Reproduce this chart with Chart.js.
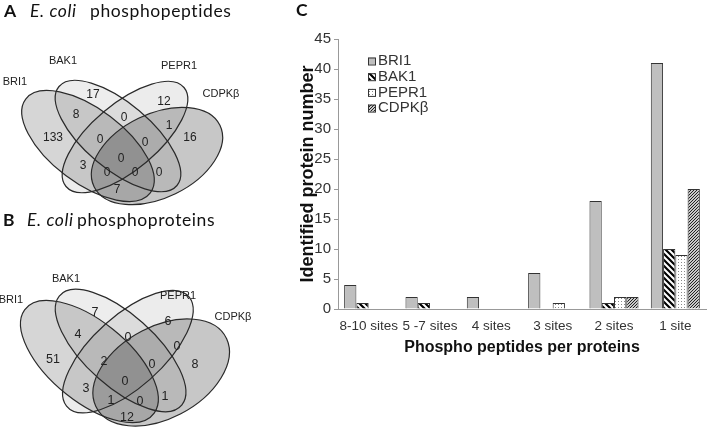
<!DOCTYPE html>
<html>
<head>
<meta charset="utf-8">
<script src="https://cdn.jsdelivr.net/npm/chart.js@4.4.0/dist/chart.umd.min.js"></script>
<style>
  body { margin: 0; background: #fff; }
  #page { position: relative; width: 708px; height: 429px; overflow: hidden; }
  .box { position: absolute; }
  .t { position: absolute; font-family: Lato, sans-serif; font-size: 17.5px; line-height: 17px; letter-spacing: .6px; color: #111; white-space: nowrap; }
</style>
</head>
<body>
<div id="page">
  <div class="box" style="left:0;top:0;width:300px;height:210px"><canvas id="vennA"></canvas></div>
  <div class="box" style="left:0;top:210px;width:300px;height:219px"><canvas id="vennB"></canvas></div>
  <div class="box" style="left:296px;top:0;width:412px;height:429px"><canvas id="sites"></canvas></div>

  <span class="t" style="left:4px;top:2px"><b>A</b></span>
  <span class="t" style="left:30px;top:2px"><i>E. coli</i></span>
  <span class="t" style="left:90px;top:2px">phosphopeptides</span>
  <span class="t" style="left:3px;top:211px"><b>B</b></span>
  <span class="t" style="left:27px;top:211px"><i>E. coli</i></span>
  <span class="t" style="left:77px;top:211px">phosphoproteins</span>
  <span class="t" style="left:296px;top:1px"><b>C</b></span>
</div>
<script>
// ---- data ----
const vennSets = ['BRI1', 'BAK1', 'PEPR1', 'CDPKβ'];
// regions: A, B, C, D, AB, BC, CD, AD, AC, BD, ABC, BCD, ABD, ACD, ABCD
const peptideCounts = [133, 17, 12, 16, 8, 0, 1, 7, 3, 0, 0, 0, 0, 0, 0];
const proteinCounts = [51, 7, 6, 8, 4, 0, 0, 12, 3, 1, 2, 0, 0, 1, 0];

const siteLabels = ['8-10 sites', '5 -7 sites', '4 sites', '3 sites', '2 sites', '1 site'];
const bri1 = [4, 2, 2, 6, 18, 41];
const bak1 = [1, 1, 0, 0, 1, 10];
const pepr1 = [0, 0, 0, 1, 2, 9];
const cdpk = [0, 0, 0, 0, 2, 20];
const yMax = 45, yStep = 5;

// ---- venn layout (page pixels) ----
const vennFill = ['rgba(0,0,0,0.16)', 'rgba(0,0,0,0.07)', 'rgba(0,0,0,0.075)', 'rgba(0,0,0,0.22)'];

const layoutA = {
  box: [0, 300, 0, 210],
  stretch: [1, 1],
  // cx, cy, a, b, rotation
  ellipses: [[88, 146, 78, 37, 37], [118, 136, 77, 33, 40], [125, 137, 77, 33, -40], [157, 156, 70, 42, -26]],
  names: [[15, 82], [63, 61], [179, 66], [221, 94]],
  spots: [[53, 138], [93, 95], [164, 102], [190, 138], [76, 115], [124, 118], [169, 126], [117, 190],
          [83, 166], [159, 173], [100, 140], [145, 143], [135, 173], [107, 173], [121, 159]],
  countFont: '12px "Liberation Sans"',
  nameFont: '11px "Liberation Sans"'
};

const layoutB = {
  box: [0, 300, 210, 429],
  stretch: [1.04, 1.1],
  ellipses: [[89.4, 361.5, 78, 37, 37], [120.6, 350.5, 77, 33, 40], [127.9, 351.6, 77, 33, -40], [161.2, 372.5, 70, 42, -26]],
  names: [[11, 300], [66, 279], [178, 296], [233, 317]],
  spots: [[53, 360], [95, 313], [168, 322], [195, 365], [78, 335], [128, 338], [177, 347], [127, 418],
          [86, 389], [165, 397], [104, 362], [152, 365], [140, 402], [111, 401], [125, 382]],
  countFont: '12.5px "Liberation Sans"',
  nameFont: '11px "Liberation Sans"'
};

function vennPlugin(layout, counts) {
  return {
    id: 'venn',
    beforeDatasetsDraw(chart) {
      const { ctx, scales: { x, y } } = chart;
      const kx = Math.abs(x.getPixelForValue(1) - x.getPixelForValue(0)) * layout.stretch[0];
      const ky = Math.abs(y.getPixelForValue(1) - y.getPixelForValue(0)) * layout.stretch[1];
      const trace = e => {
        ctx.save();
        ctx.translate(x.getPixelForValue(e[0]), y.getPixelForValue(e[1]));
        ctx.scale(kx, ky);
        ctx.rotate(e[4] * Math.PI / 180);
        ctx.beginPath();
        ctx.ellipse(0, 0, e[2], e[3], 0, 0, Math.PI * 2);
        ctx.restore();
      };
      layout.ellipses.forEach((e, i) => { trace(e); ctx.fillStyle = vennFill[i]; ctx.fill(); });
      ctx.strokeStyle = '#2a2a2a';
      ctx.lineWidth = 1.2;
      layout.ellipses.forEach(e => { trace(e); ctx.stroke(); });
    },
    afterDatasetsDraw(chart) {
      const { ctx, scales: { x, y } } = chart;
      const meta = chart.getDatasetMeta(0);
      ctx.save();
      ctx.fillStyle = '#222';
      ctx.textAlign = 'center';
      ctx.textBaseline = 'middle';
      ctx.font = layout.countFont;
      meta.data.forEach((pt, i) => ctx.fillText(String(counts[i]), pt.x, pt.y));
      ctx.font = layout.nameFont;
      layout.names.forEach((p, i) => ctx.fillText(vennSets[i], x.getPixelForValue(p[0]), y.getPixelForValue(p[1])));
      ctx.restore();
    }
  };
}

function vennChart(id, layout, counts) {
  return new Chart(document.getElementById(id), {
    type: 'scatter',
    data: {
      datasets: [{
        data: layout.spots.map(p => ({ x: p[0], y: p[1] })),
        pointRadius: 0,
        pointHoverRadius: 0
      }]
    },
    options: {
      responsive: true,
      maintainAspectRatio: false,
      animation: false,
      events: [],
      layout: { padding: 0 },
      scales: {
        x: { type: 'linear', display: false, min: layout.box[0], max: layout.box[1] },
        y: { type: 'linear', display: false, min: layout.box[2], max: layout.box[3], reverse: true }
      },
      plugins: { legend: { display: false }, tooltip: { enabled: false } }
    },
    plugins: [vennPlugin(layout, counts)]
  });
}

vennChart('vennA', layoutA, peptideCounts);
vennChart('vennB', layoutB, proteinCounts);

// ---- bar fills ----
function makePattern(kind) {
  const c = document.createElement('canvas');
  const g = c.getContext('2d');
  if (kind === 'stripe') {
    c.width = c.height = 6;
    g.fillStyle = '#fff'; g.fillRect(0, 0, 6, 6);
    g.strokeStyle = '#000'; g.lineWidth = 2.2;
    g.beginPath();
    g.moveTo(-1, -1); g.lineTo(7, 7);
    g.moveTo(-1, 5); g.lineTo(1, 7);
    g.moveTo(5, -1); g.lineTo(7, 1);
    g.stroke();
  } else if (kind === 'dots') {
    c.width = c.height = 3;
    g.fillStyle = '#fff'; g.fillRect(0, 0, 3, 3);
    g.fillStyle = '#8a8a8a'; g.fillRect(1, 1, 1, 1);
  } else {
    c.width = c.height = 3;
    g.fillStyle = '#c8c8c8'; g.fillRect(0, 0, 3, 3);
    g.strokeStyle = '#222'; g.lineWidth = 1;
    g.beginPath();
    g.moveTo(0, 3); g.lineTo(3, 0);
    g.moveTo(-1, 1); g.lineTo(1, -1);
    g.moveTo(2, 4); g.lineTo(4, 2);
    g.stroke();
  }
  return g.createPattern(c, 'repeat');
}

const keyPlugin = {
  id: 'key',
  afterDatasetsDraw(chart) {
    const { ctx, chartArea } = chart;
    ctx.save();
    ctx.font = '15px "Liberation Sans"';
    ctx.textBaseline = 'middle';
    chart.data.datasets.forEach((ds, i) => {
      const bx = chartArea.left + 30;
      const cy = chartArea.top + 22 + i * 15.7;
      ctx.fillStyle = ds.backgroundColor;
      ctx.fillRect(bx, cy - 3.5, 7, 7);
      ctx.strokeStyle = '#333';
      ctx.lineWidth = 1;
      ctx.strokeRect(bx + 0.5, cy - 3, 7, 7);
      ctx.fillStyle = '#333';
      ctx.fillText(ds.label, bx + 10, cy);
    });
    ctx.restore();
  }
};

const axisFont = { family: 'Liberation Sans' };

new Chart(document.getElementById('sites'), {
  type: 'bar',
  data: {
    labels: siteLabels,
    datasets: [
      { label: 'BRI1', data: bri1, backgroundColor: '#bfbfbf' },
      { label: 'BAK1', data: bak1, backgroundColor: makePattern('stripe') },
      { label: 'PEPR1', data: pepr1, backgroundColor: makePattern('dots') },
      { label: 'CDPKβ', data: cdpk, backgroundColor: makePattern('hatch') }
    ]
  },
  options: {
    responsive: true,
    maintainAspectRatio: false,
    animation: false,
    events: [],
    layout: { padding: { top: 39, right: 2, bottom: 70, left: 0 } },
    datasets: { bar: { barPercentage: 1, categoryPercentage: 0.8, borderColor: '#333', borderWidth: 1 } },
    scales: {
      x: {
        grid: { display: false, drawTicks: false },
        border: { color: '#999' },
        ticks: { padding: 9, color: '#333', maxRotation: 0, autoSkip: false, font: { ...axisFont, size: 13.5 } },
        title: { display: true, text: 'Phospho peptides per proteins', color: '#111',
                 font: { ...axisFont, size: 16, weight: 'bold' }, padding: { top: 0, bottom: 2 } },
        afterFit: s => { s.height = 50; }
      },
      y: {
        min: 0,
        max: yMax,
        ticks: { stepSize: yStep, padding: 3, color: '#333', font: { ...axisFont, size: 15 } },
        grid: { drawOnChartArea: false, tickLength: 4, color: '#999' },
        border: { color: '#999' },
        title: { display: true, text: 'Identified protein number', color: '#111',
                 font: { ...axisFont, size: 18, weight: 'bold' }, padding: { top: 1, bottom: 0 } },
        afterFit: s => { s.width = 42; }
      }
    },
    plugins: { legend: { display: false }, tooltip: { enabled: false } }
  },
  plugins: [keyPlugin]
});
</script>
</body>
</html>
